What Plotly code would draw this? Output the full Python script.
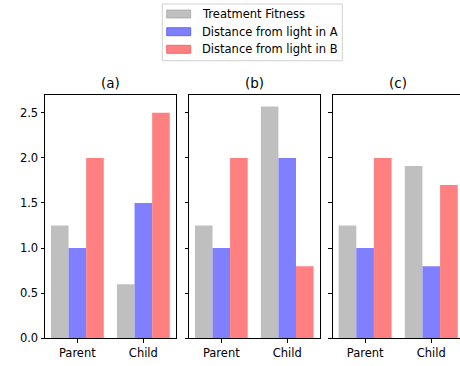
import plotly.graph_objects as go

# Data
categories = ["Parent", "Child"]
panel_titles = ["(a)", "(b)", "(c)"]
series_names = ["Treatment Fitness", "Distance from light in A", "Distance from light in B"]
series_colors = ["#bfbfbf", "#8080ff", "#ff8080"]

treatment_fitness = [[1.25, 0.60], [1.25, 2.57], [1.25, 1.91]]
distance_a = [[1.0, 1.5], [1.0, 2.0], [1.0, 0.8]]
distance_b = [[2.0, 2.5], [2.0, 0.8], [2.0, 1.7]]
y_ticks = [0.0, 0.5, 1.0, 1.5, 2.0, 2.5]

W, H = 460, 366
FONT = "DejaVu Sans"
FS = 11.5

def px_x(v):
    return v / W

def px_y(v):
    return 1 - v / H

# panel geometry in pixels (left, right); the last panel runs past the page edge
panels_px = [(45.0, 175.7), (189.0, 319.5), (332.7, 463.7)]
top_px, bottom_px = 95.0, 338.3
x_lo, x_hi = -0.49, 1.49
y_max = 2.697

fig = go.Figure()
all_series = [treatment_fitness, distance_a, distance_b]

layout = dict(
    width=W, height=H,
    margin=dict(l=0, r=0, t=0, b=0, autoexpand=False),
    paper_bgcolor="white", plot_bgcolor="white",
    barmode="group", bargap=0.2, bargroupgap=0.0,
    showlegend=False,
    font=dict(family=FONT, size=FS, color="black"),
)

for p in range(3):
    ax = "" if p == 0 else str(p + 1)
    for s in range(3):
        fig.add_trace(go.Bar(
            x=categories, y=all_series[s][p], name=series_names[s],
            marker=dict(color=series_colors[s], line=dict(width=0)),
            xaxis="x" + ax, yaxis="y" + ax, showlegend=False,
        ))
    left, right = panels_px[p]
    right_clip = min(right, W)
    hi = x_lo + (x_hi - x_lo) * (right_clip - left) / (right - left)
    layout["xaxis" + ax] = dict(
        domain=[px_x(left), px_x(right_clip)], anchor="y" + ax,
        type="category", range=[x_lo, hi], automargin=False,
        showline=True, linecolor="black", linewidth=1, mirror=True,
        ticks="outside", ticklen=3.5, tickwidth=1, tickcolor="black",
        showgrid=False, zeroline=False,
        tickfont=dict(family=FONT, size=FS, color="black"),
    )
    layout["yaxis" + ax] = dict(
        domain=[px_y(bottom_px), px_y(top_px)], anchor="x" + ax,
        range=[0, y_max], tickvals=y_ticks, automargin=False,
        ticktext=["%.1f" % v for v in y_ticks],
        showticklabels=(p == 0),
        showline=True, linecolor="black", linewidth=1,
        mirror=(p < 2),
        ticks="outside", ticklen=3.5, tickwidth=1, tickcolor="black",
        showgrid=False, zeroline=False,
        tickfont=dict(family=FONT, size=FS, color="black"),
    )

fig.update_layout(**layout)

# panel titles
for p, title in enumerate(panel_titles):
    left, right = panels_px[p]
    fig.add_annotation(
        x=px_x((left + right) / 2), y=px_y(82.7), xref="paper", yref="paper",
        text=title, showarrow=False, xanchor="center", yanchor="middle",
        font=dict(family=FONT, size=13.5, color="black"),
    )

# legend box
fig.add_shape(
    type="rect", xref="paper", yref="paper",
    x0=px_x(162.3), x1=px_x(342.3), y0=px_y(60.7), y1=px_y(4.0),
    line=dict(color="#d0d0d0", width=1), fillcolor="rgba(255,255,255,0.8)",
)
edge_colors = ["#a8a8a8", "#5050ff", "#ff5050"]
row_centers = [14.0, 31.7, 49.3]
for s in range(3):
    yc = row_centers[s]
    fig.add_shape(
        type="rect", xref="paper", yref="paper",
        x0=px_x(166.7), x1=px_x(190.7), y0=px_y(yc + 4), y1=px_y(yc - 4),
        line=dict(color=edge_colors[s], width=0.8), fillcolor=series_colors[s],
    )
    fig.add_annotation(
        x=px_x(200), y=px_y(yc), xref="paper", yref="paper",
        text=series_names[s], showarrow=False, xanchor="left", yanchor="middle",
        font=dict(family=FONT, size=FS, color="black"),
    )

fig.write_html("out.html")
